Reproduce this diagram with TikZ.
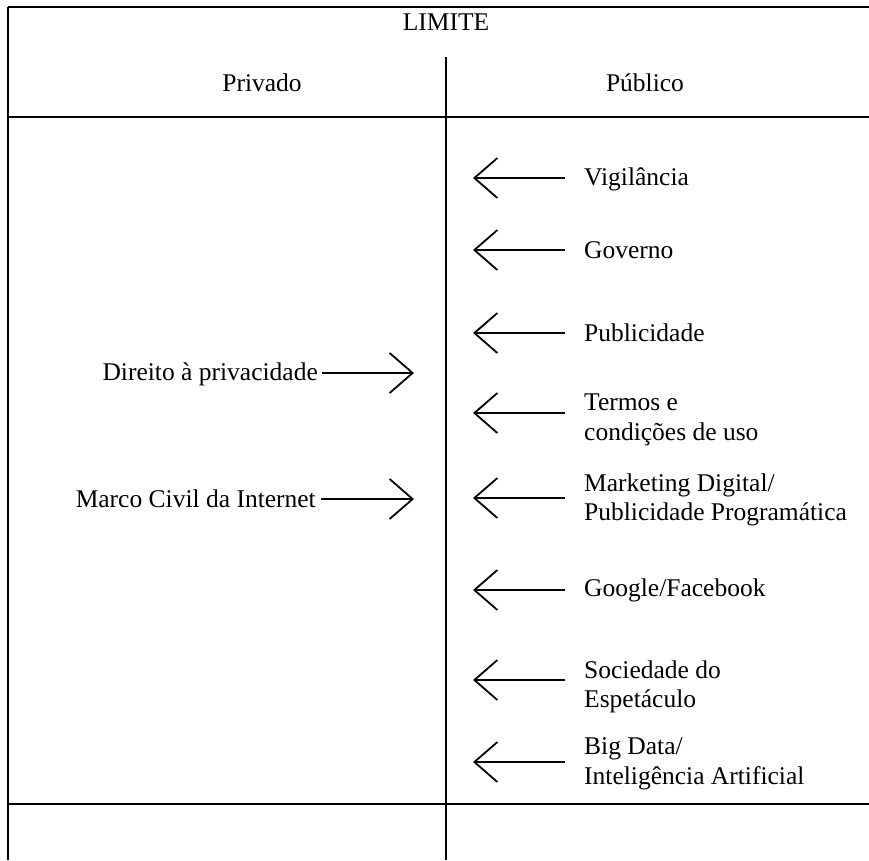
\documentclass[tikz,border=0pt]{standalone}
\usepackage{fontspec}
\setmainfont{Liberation Serif}
\usetikzlibrary{arrows.meta}

\begin{document}
\begin{tikzpicture}[
		x=1pt,y=-1pt,
		frame/.style={line width=2pt,black},
		topframe/.style={line width=1.5pt,black},
		pointer/.style={line width=1.8pt,
			-{Straight Barb[length=23pt,width=40pt,line width=1.8pt]}},
		heading/.style={font=\fontsize{25.5}{29.5}\selectfont,inner sep=0pt},
		item/.style={font=\fontsize{25.5}{29.5}\selectfont,inner sep=0pt,
			align=left,anchor=west},
		source/.style={font=\fontsize{25.5}{29.5}\selectfont,inner sep=0pt,
			anchor=east},
	]
	\useasboundingbox (0,0) rectangle (869,860);

	% ---------- table frame ----------
	\draw[topframe] (8,7) -- (869,7);
	\draw[frame] (8,7) -- (8,860);
	\draw[frame] (446,57) -- (446,860);
	\draw[frame] (8,117) -- (869,117);
	\draw[frame] (8,804) -- (869,804);

	% ---------- headings ----------
	\node[heading,anchor=base] (limite) at (446,30) {LIMITE};
	\node[heading,anchor=base] (privado) at (262,91) {Privado};
	\node[heading,anchor=base] (publico) at (645,91) {Público};

	% ---------- private side ----------
	\node[source] (direito) at (318,374) {Direito à privacidade};
	\coordinate (direito-tip) at (414,373);
	\draw[pointer,shorten <=4pt] (direito.east |- direito-tip) -- (direito-tip);

	\node[source] (marco) at (316,499) {Marco Civil da Internet};
	\coordinate (marco-tip) at (414,499);
	\draw[pointer,shorten <=5pt] (marco.east |- marco-tip) -- (marco-tip);

	% ---------- public side ----------
	\node[item] (vigilancia) at (584,179) {Vigilância};
	\coordinate (vigilancia-tip) at (473,178);
	\draw[pointer,shorten <=19pt] (vigilancia.west |- vigilancia-tip) -- (vigilancia-tip);

	\node[item] (governo) at (584,250) {Governo};
	\coordinate (governo-tip) at (473,250);
	\draw[pointer,shorten <=19pt] (governo.west |- governo-tip) -- (governo-tip);

	\node[item] (publicidade) at (584,333) {Publicidade};
	\coordinate (publicidade-tip) at (473,333);
	\draw[pointer,shorten <=19pt] (publicidade.west |- publicidade-tip) -- (publicidade-tip);

	\node[item] (termos) at (584,420) {Termos e\\condições de uso};
	\coordinate (termos-tip) at (473,413);
	\draw[pointer,shorten <=19pt] (termos.west |- termos-tip) -- (termos-tip);

	\node[item] (marketing) at (584,500) {Marketing Digital/\\Publicidade Programática};
	\coordinate (marketing-tip) at (473,498);
	\draw[pointer,shorten <=19pt] (marketing.west |- marketing-tip) -- (marketing-tip);

	\node[item] (google) at (584,590) {Google/Facebook};
	\coordinate (google-tip) at (473,590);
	\draw[pointer,shorten <=19pt] (google.west |- google-tip) -- (google-tip);

	\node[item] (sociedade) at (584,687) {Sociedade do\\Espetáculo};
	\coordinate (sociedade-tip) at (473,680);
	\draw[pointer,shorten <=19pt] (sociedade.west |- sociedade-tip) -- (sociedade-tip);

	\node[item] (bigdata) at (584,764) {Big Data/\\Inteligência Artificial};
	\coordinate (bigdata-tip) at (473,762);
	\draw[pointer,shorten <=19pt] (bigdata.west |- bigdata-tip) -- (bigdata-tip);

\end{tikzpicture}
\end{document}
